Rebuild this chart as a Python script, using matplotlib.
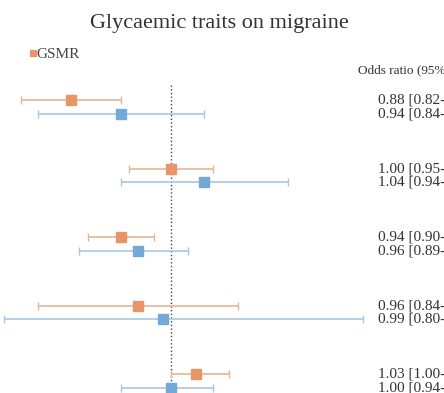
import numpy as np
import matplotlib
matplotlib.use('Agg')
import matplotlib.pyplot as plt

plt.rcParams['font.family'] = ['Liberation Serif', 'DejaVu Serif']

# odds ratios and 95% CI (5 traits, two methods)
gsmr_or = [0.88, 1.00, 0.94, 0.96, 1.03]
gsmr_lo = [0.82, 0.95, 0.90, 0.84, 1.00]
gsmr_hi = [0.94, 1.05, 0.98, 1.08, 1.07]

other_or = [0.94, 1.04, 0.96, 0.99, 1.00]
other_lo = [0.84, 0.94, 0.89, 0.80, 0.94]
other_hi = [1.04, 1.14, 1.02, 1.23, 1.05]

orange_mk = '#E8956A'
orange_ln = '#E6B592'
blue_mk = '#72A9D8'
blue_ln = '#A7C7E3'

fig = plt.figure(figsize=(4.44, 3.93), dpi=100)
ax = fig.add_axes([0, 0, 1, 1])
ax.axis('off')

rows = np.arange(len(gsmr_or))
off = 0.2

ax.errorbar(gsmr_or, rows,
            xerr=[np.array(gsmr_or) - np.array(gsmr_lo), np.array(gsmr_hi) - np.array(gsmr_or)],
            fmt='s', color=orange_mk, ecolor=orange_ln, ms=7, elinewidth=1.2,
            capsize=3, capthick=1, zorder=3)
ax.errorbar(other_or, rows + off,
            xerr=[np.array(other_or) - np.array(other_lo), np.array(other_hi) - np.array(other_or)],
            fmt='s', color=blue_mk, ecolor=blue_ln, ms=7, elinewidth=1.2,
            capsize=3, capthick=1, zorder=3)

# reference line at OR = 1
ax.plot([1, 1], [-0.22, 4.4], color='#444444', lw=1, ls=':', zorder=2)

# the right-hand labels run off the edge of the figure, as in the original crop
for i in rows:
    ax.text(1.249, i, '%.2f [%.2f-%.2f]' % (gsmr_or[i], gsmr_lo[i], gsmr_hi[i]),
            fontsize=11, va='center', ha='left', color='#333333')
    ax.text(1.249, i + off, '%.2f [%.2f-%.2f]' % (other_or[i], other_lo[i], other_hi[i]),
            fontsize=11, va='center', ha='left', color='#333333')

ax.set_xlim(0.7947, 1.3277)
ax.set_ylim(4.277, -1.46)

fig.text(0.495, 0.94, 'Glycaemic traits on migraine', fontsize=16,
         ha='center', va='center', color='#333333')
fig.text(0.074, 0.862, '■', fontsize=11, color=orange_mk, ha='center', va='center')
fig.text(0.083, 0.862, 'GSMR', fontsize=11, color='#444444', ha='left', va='center')
fig.text(0.806, 0.822, 'Odds ratio (95% CI)', fontsize=9.5, color='#333333',
         ha='left', va='center')

fig.savefig('out.png', dpi=100)
